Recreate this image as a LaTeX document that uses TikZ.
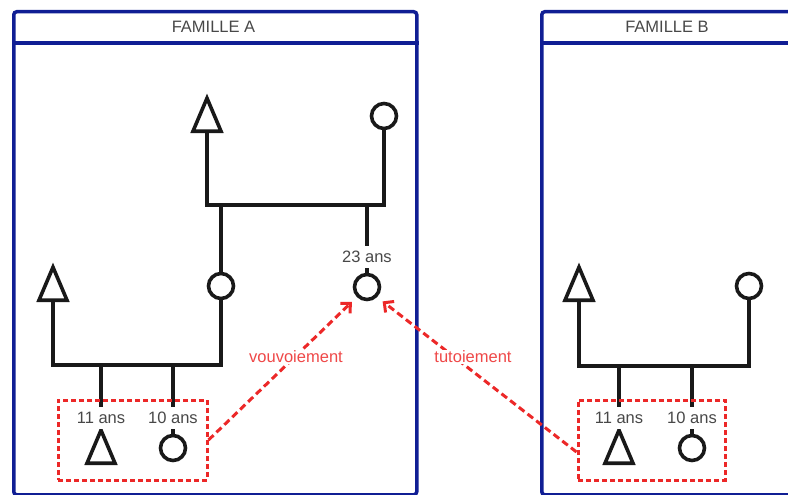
\documentclass[tikz,border=0pt]{standalone}
\usepackage{fontspec}
\setmainfont{Liberation Sans}
\usetikzlibrary{positioning, shapes.geometric, arrows.meta}
\definecolor{bleucadre}{RGB}{16,30,148}
\definecolor{rougelien}{RGB}{236,40,40}
\definecolor{gristexte}{RGB}{72,72,72}

\begin{document}
\begin{tikzpicture}[x=1pt, y=-1pt,
  trait/.style={line width=3.6pt, draw=black!90},
  homme/.style={isosceles triangle, isosceles triangle stretches, shape border rotate=90, draw=black!90, line width=3.6pt, minimum width=28pt, minimum height=33pt, inner sep=0pt},
  femme/.style={circle, draw=black!90, line width=3.6pt, minimum size=25pt, inner sep=0pt},
  age/.style={fill=white, text=gristexte, inner xsep=1pt, minimum height=22pt, font=\fontsize{16.5}{17}\selectfont},
  cadre/.style={draw=bleucadre, line width=3.5pt, rounded corners=3pt, anchor=north west},
  titre/.style={text=gristexte, font=\fontsize{16.5}{17}\selectfont},
  groupe/.style={draw=rougelien, dash pattern=on 5pt off 3pt, line width=3pt},
  lien/.style={draw=rougelien, line width=3pt, dash pattern=on 7pt off 4pt, shorten >=7pt, -{Straight Barb[length=7pt, width=14pt]}},
  relation/.style={text=rougelien!85, fill=white, inner sep=1pt, font=\fontsize{16.5}{17}\selectfont}]

\useasboundingbox (0,0) rectangle (788,495);

% Cadres des familles
\node[cadre, minimum width=403pt, minimum height=483pt] at (12,10) (cadreA) {};
\node[titre] at (213.5,27) (titreA) {FAMILLE A};
\draw[bleucadre, line width=3.5pt] (cadreA.west |- 0,43) -- (cadreA.east |- 0,43);

\node[cadre, minimum width=255pt, minimum height=483pt] at (540,10) (cadreB) {};
\node[titre] at (667,27) (titreB) {FAMILLE B};
\draw[bleucadre, line width=3.5pt] (cadreB.west |- 0,43) -- (cadreB.east |- 0,43);

% Famille A : grands-parents
\node[homme, anchor=lower side] at (207,133) (gpA) {};
\node[femme] at (384,116) (gmA) {};
\coordinate (unionA1) at (384,205);

% Famille A : parents
\node[homme, anchor=lower side] at (53,302) (pereA) {};
\node[femme] at (221,286) (mereA) {};
\node[femme] at (367,287) (tanteA) {};
\coordinate (unionA2) at (221,365);

% Famille A : enfants
\node[homme, anchor=lower side] at (101,465) (filsA) {};
\node[femme] at (173,448) (filleA) {};

% Famille B
\node[homme, anchor=lower side] at (579,302) (pereB) {};
\node[femme] at (749,286) (mereB) {};
\coordinate (unionB) at (749,366);
\node[homme, anchor=lower side] at (619,465) (filsB) {};
\node[femme] at (692,448) (filleB) {};

% Liens de parente
\draw[trait] (gpA.lower side) |- (unionA1) -- (gmA);
\draw[trait] (mereA) -- (mereA |- unionA1);
\draw[trait] (tanteA) -- (tanteA |- unionA1);
\draw[trait] (pereA.lower side) |- (unionA2) -- (mereA);
\draw[trait] (filsA.apex) -- (filsA.apex |- unionA2);
\draw[trait] (filleA) -- (filleA |- unionA2);
\draw[trait] (pereB.lower side) |- (unionB) -- (mereB);
\draw[trait] (filsB.apex) -- (filsB.apex |- unionB);
\draw[trait] (filleB) -- (filleB |- unionB);

% Ages
\node[age] at (367,257) (ageT) {23 ans};
\node[age] at (101,418) (ageFA) {11 ans};
\node[age] at (173,418) (ageFiA) {10 ans};
\node[age] at (619,418) (ageFB) {11 ans};
\node[age] at (692,418) (ageFiB) {10 ans};

% Groupes d'enfants
\node[groupe, minimum width=149pt, minimum height=80pt] at (132.5,440) (groupeA) {};
\node[groupe, minimum width=147pt, minimum height=80pt] at (651.5,440) (groupeB) {};

% Formes d'adresse
\draw[lien] (groupeA.east) -- (tanteA.south west);
\draw[lien] ([yshift=-12pt]groupeB.west) -- (tanteA.south east);
\node[relation] at (296,357) (vous) {vouvoiement};
\node[relation] at (473,357) (tu) {tutoiement};
\end{tikzpicture}
\end{document}
